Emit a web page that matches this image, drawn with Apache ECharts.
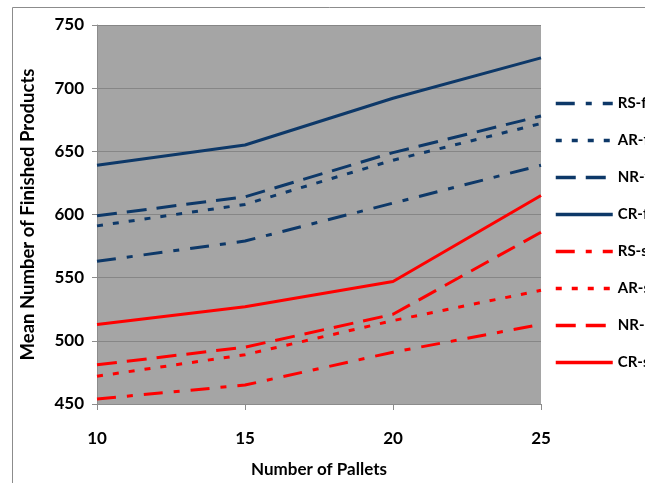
<!DOCTYPE html>
<html>
<head>
<meta charset="utf-8">
<script src="https://cdn.jsdelivr.net/npm/echarts@6/dist/echarts.min.js"></script>
<style>
  html, body { margin: 0; padding: 0; background: #fff; }
  #chart { width: 645px; height: 483px; }
</style>
</head>
<body>
<div id="chart"></div>
<script>
// pallets on x axis
const pallets = [10, 15, 20, 25];

// "-f" series (dark blue)
const rsF = [563, 579, 609, 639];
const arF = [591, 608, 643, 672];
const nrF = [599, 614, 649, 678];
const crF = [639, 655, 692, 724];

// "-s" series (red)
const rsS = [454, 465, 491, 513];
const arS = [472, 489, 516, 540];
const nrS = [481, 495, 521, 586];
const crS = [513, 527, 547, 615];

const legendNames = ['RS-f', 'AR-f', 'NR-f', 'CR-f', 'RS-s', 'AR-s', 'NR-s', 'CR-s'];

const blue = '#0d3868';
const red = '#ff0000';
const font = 'Lato';

// dash patterns
const dashRS = [19, 11, 6, 11];
const dashAR = [6, 10];
const dashNR = [20, 10];

function mk(name, vals, color, dash) {
  return {
    name: name,
    type: 'line',
    symbol: 'none',
    data: pallets.map((p, i) => [p, vals[i]]),
    lineStyle: { color: color, width: 3, type: dash },
    itemStyle: { color: color },
    emphasis: { disabled: true }
  };
}

const chart = echarts.init(document.getElementById('chart'), null, { renderer: 'canvas' });
var option = {
  animation: false,
  backgroundColor: '#fff',
  textStyle: { fontFamily: font },
  graphic: [{
    type: 'rect',
    shape: { x: 12.5, y: 7.5, width: 700, height: 600 },
    style: { fill: 'none', stroke: '#8c8c8c', lineWidth: 1 },
    silent: true
  }],
  grid: {
    left: 97,
    right: 104,
    top: 25,
    bottom: 77,
    show: true,
    backgroundColor: '#a5a5a5',
    borderWidth: 0
  },
  legend: {
    orient: 'vertical',
    left: 554,
    top: 96,
    padding: 0,
    itemWidth: 57,
    itemHeight: 14,
    itemGap: 22,
    itemStyle: { opacity: 0 },
    lineStyle: { width: 3.5 },
    textStyle: {
      fontFamily: font, fontWeight: 'bold', fontSize: 15, color: '#000',
      overflow: 'none'
    },
    data: legendNames
  },
  xAxis: {
    type: 'value',
    min: 10,
    max: 25,
    interval: 5,
    name: 'Number of Pallets',
    nameLocation: 'middle',
    nameGap: 57,
    nameTextStyle: { fontFamily: font, fontWeight: 'bold', fontSize: 17, color: '#000' },
    axisLine: { show: true, lineStyle: { color: '#8c8c8c', width: 1 } },
    axisTick: { show: true, length: 6, lineStyle: { color: '#8c8c8c' } },
    axisLabel: { margin: 26, fontFamily: font, fontWeight: 'bold', fontSize: 17, color: '#000' },
    splitLine: { show: false }
  },
  yAxis: {
    type: 'value',
    min: 450,
    max: 750,
    interval: 50,
    name: 'Mean Number of Finished Products',
    nameLocation: 'middle',
    nameGap: 59,
    nameTextStyle: { fontFamily: font, fontWeight: 'bold', fontSize: 18.5, color: '#000' },
    axisLine: { show: true, lineStyle: { color: '#8c8c8c', width: 1 } },
    axisTick: { show: true, length: 5, lineStyle: { color: '#8c8c8c' } },
    axisLabel: { margin: 13, fontFamily: font, fontWeight: 'bold', fontSize: 17, color: '#000' },
    splitLine: { show: true, lineStyle: { color: '#868686', width: 1 } }
  },
  series: [
    mk('RS-f', rsF, blue, dashRS),
    mk('AR-f', arF, blue, dashAR),
    mk('NR-f', nrF, blue, dashNR),
    mk('CR-f', crF, blue, 'solid'),
    mk('RS-s', rsS, red, dashRS),
    mk('AR-s', arS, red, dashAR),
    mk('NR-s', nrS, red, dashNR),
    mk('CR-s', crS, red, 'solid')
  ]
};
chart.setOption(option);
</script>
</body>
</html>
